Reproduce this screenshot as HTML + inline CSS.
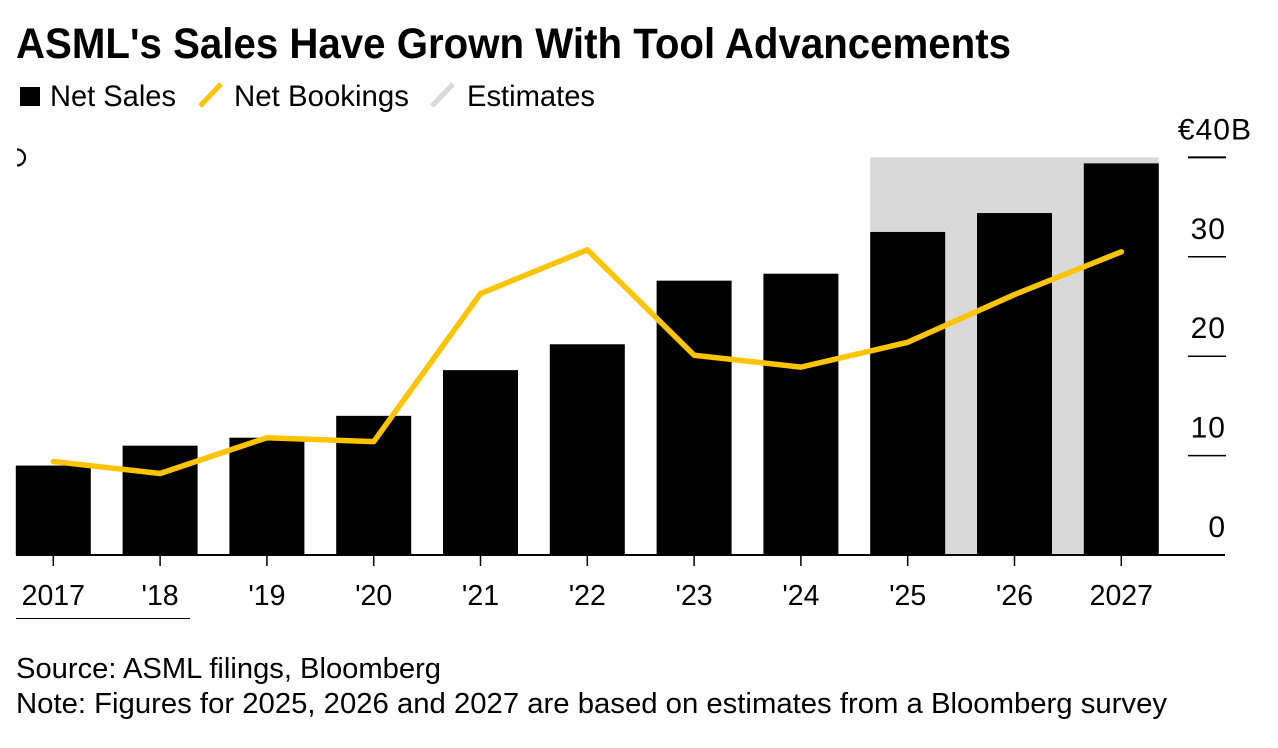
<!DOCTYPE html>
<html lang="en">
<head>
<meta charset="utf-8">
<title>ASML's Sales Have Grown With Tool Advancements</title>
<style>
html,body{margin:0;padding:0;background:#fff;}
body{width:1278px;height:748px;overflow:hidden;position:relative;font-family:"Liberation Sans",sans-serif;color:#000;}
svg{position:absolute;left:0;top:0;}
text{font-family:"Liberation Sans",sans-serif;fill:#000;}
</style>
</head>
<body>
<svg id="chart" width="1278" height="748" viewBox="0 0 1278 748">
  <text x="16" y="58" font-size="43" font-weight="700" textLength="995" lengthAdjust="spacingAndGlyphs">ASML's Sales Have Grown With Tool Advancements</text>
  <g>
    <rect x="20" y="87" width="20" height="19" fill="#000"></rect>
    <text x="50" y="106" font-size="29.5" textLength="126" lengthAdjust="spacingAndGlyphs">Net Sales</text>
    <line x1="200" y1="106" x2="221" y2="84" stroke="#ffc400" stroke-width="5"></line>
    <text x="234" y="106" font-size="29.5" textLength="175" lengthAdjust="spacingAndGlyphs">Net Bookings</text>
    <line x1="432" y1="106" x2="453" y2="84" stroke="#d9d9d9" stroke-width="5"></line>
    <text x="467" y="106" font-size="29.5" textLength="128" lengthAdjust="spacingAndGlyphs">Estimates</text>
  </g>
  <path d="M17 149.5 A8 8 0 0 1 17 165.5" fill="none" stroke="#000" stroke-width="2.2"></path>
  <g id="band-layer"></g>
  <g id="grid-layer"></g>
  <g id="bar-layer"></g>
  <g id="axis-layer"></g>
  <g id="line-layer"></g>
  <line x1="16" y1="618.5" x2="190" y2="618.5" stroke="#000" stroke-width="1"></line>
  <text x="16" y="678" font-size="28.5" textLength="425" lengthAdjust="spacingAndGlyphs">Source: ASML filings, Bloomberg</text>
  <text x="16" y="713" font-size="28.5" textLength="1151" lengthAdjust="spacingAndGlyphs">Note: Figures for 2025, 2026 and 2027 are based on estimates from a Bloomberg survey</text>
</svg>
<script>
const categories = ["2017", "'18", "'19", "'20", "'21", "'22", "'23", "'24", "'25", "'26", "2027"];
const netSales = [9.0, 11.0, 11.8, 14.0, 18.6, 21.2, 27.6, 28.3, 32.5, 34.4, 39.4];
const netBookings = [9.4, 8.2, 11.8, 11.4, 26.3, 30.7, 20.1, 18.9, 21.4, 26.2, 30.5];
const yTicks = [0, 10, 20, 30, 40];
const yTickLabels = ["0", "10", "20", "30", "€40B"];
const estimateStartIndex = 8;

const NS = 'http://www.w3.org/2000/svg';
const plotLeft = 53.3, plotStep = 106.8, barWidth = 75;
const yZero = 555, yPerUnit = 9.94;
function xPos(i) { return plotLeft + i * plotStep; }
function yPos(v) { return yZero - v * yPerUnit; }
function make(parent, tag, attrs, text) {
  const el = document.createElementNS(NS, tag);
  for (const k in attrs) el.setAttribute(k, attrs[k]);
  if (text !== undefined) el.textContent = text;
  document.getElementById(parent).appendChild(el);
  return el;
}

const maxTick = yTicks[yTicks.length - 1];
const bandLeft = xPos(estimateStartIndex) - barWidth / 2;
const bandRight = xPos(categories.length - 1) + barWidth / 2;
const band = make('band-layer', 'rect', {x: bandLeft, y: yPos(maxTick), width: bandRight - bandLeft, height: yPos(0) - yPos(maxTick), fill: '#d9d9d9'});



yTicks.forEach(function (t, i) {
  const isTop = i === yTicks.length - 1;
  if (t !== 0) {
    const tick = make('grid-layer', 'line', {x1: 1188, x2: 1226, y1: yPos(t), y2: yPos(t), stroke: '#000', 'stroke-width': isTop ? 2 : 1.5});
    
    
  }
  const label = make('grid-layer', 'text', {x: isTop ? 1252 : 1226, y: yPos(t) - 18, 'font-size': 30, 'text-anchor': 'end', 'letter-spacing': 1}, yTickLabels[i]);
  
  
});

categories.forEach(function (c, i) {
  const bar = make('bar-layer', 'rect', {x: xPos(i) - barWidth / 2, y: yPos(netSales[i]), width: barWidth, height: yPos(0) - yPos(netSales[i]), fill: '#000'});
  
  
  const tick = make('axis-layer', 'line', {x1: xPos(i), x2: xPos(i), y1: yZero, y2: yZero + 11, stroke: '#000', 'stroke-width': 1.5});
  
  
  const label = make('axis-layer', 'text', {x: xPos(i), y: 605, 'font-size': 28.5, 'text-anchor': 'middle'}, c);
  
  
});

const baseline = make('axis-layer', 'line', {x1: 16, x2: 1225, y1: yZero, y2: yZero, stroke: '#000', 'stroke-width': 2});



const linePoints = netBookings.map(function (v, i) { return xPos(i) + ',' + yPos(v); }).join(' ');
const bookings = make('line-layer', 'polyline', {points: linePoints, fill: 'none', stroke: '#ffc400', 'stroke-width': 5.5, 'stroke-linecap': 'round', 'stroke-linejoin': 'round'});


</script>
</body>
</html>
